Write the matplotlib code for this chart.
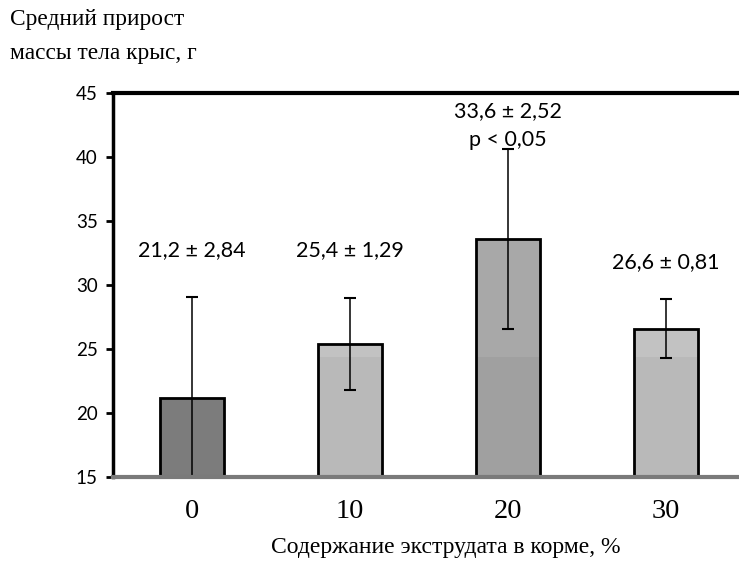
import numpy as np
import matplotlib.pyplot as plt

### DATA ###

# Extrudate content in feed, %
levels = ['0', '10', '20', '30']
# Mean body mass gain, g
gain = [21.2, 25.4, 33.6, 26.6]
# Error bar half-length as drawn
err = [7.9, 3.6, 7.0, 2.3]
# Labels above the bars
labels = ['21,2 ± 2,84', '25,4 ± 1,29', '33,6 ± 2,52\np < 0,05', '26,6 ± 0,81']
label_y = [32.7, 32.7, 42.45, 31.8]

# upper / lower tones of each bar
tone_top = ['#808080', '#c2c2c2', '#a8a8a8', '#c2c2c2']
tone_low = ['#7c7c7c', '#b9b9b9', '#a0a0a0', '#b9b9b9']
shade_level = 24.4

### PLOT ###

fig = plt.figure(figsize=(7.39, 5.63), dpi=100)
ax = fig.add_axes([113 / 739, 1 - 477 / 563, 626 / 739, 384 / 563])

x = np.arange(len(levels))
bottom = 15

ax.bar(x, np.array(gain) - bottom, bottom=bottom, width=0.405,
       color=tone_top, edgecolor='none', zorder=2)
low_h = np.minimum(gain, shade_level) - bottom
ax.bar(x, low_h, bottom=bottom, width=0.405, color=tone_low,
       edgecolor='none', zorder=2)
ax.bar(x, np.array(gain) - bottom, bottom=bottom, width=0.405,
       color='none', edgecolor='black', linewidth=2, zorder=3)

ax.errorbar(x, gain, yerr=err, fmt='none', ecolor='black', elinewidth=1.1,
            capsize=4, capthick=1.5, zorder=4)

for xi, lab, ly in zip(x, labels, label_y):
    ax.text(xi, ly, lab, ha='center', va='center', fontsize=15.5,
            family='Lato', linespacing=1.6, zorder=5)

ax.set_ylim(15, 45)
ax.set_xlim(-0.5, -0.5 + 626 / 158)
ax.set_yticks([15, 20, 25, 30, 35, 40, 45])
ax.set_xticks(x)
ax.set_xticklabels(levels, family='Liberation Serif', fontsize=20.5)
ax.tick_params(axis='x', length=0, pad=16)
ax.tick_params(axis='y', length=5, width=2, pad=6, labelsize=13.5)
for t in ax.get_yticklabels():
    t.set_family('Lato')

ax.spines['right'].set_visible(False)
ax.spines['left'].set_linewidth(2.5)
ax.spines['top'].set_linewidth(3)
ax.spines['bottom'].set_color('#7a7a7a')
ax.spines['bottom'].set_linewidth(3)
ax.spines['bottom'].set_zorder(6)

fig.text(10 / 739, 1 - 20 / 563, 'Средний прирост', family='Liberation Serif',
         fontsize=16.8, ha='left', va='center')
fig.text(10 / 739, 1 - 53 / 563, 'массы тела крыс, г', family='Liberation Serif',
         fontsize=16.8, ha='left', va='center')
fig.text(446 / 739, 1 - 548 / 563, 'Содержание экструдата в корме, %',
         family='Liberation Serif', fontsize=17, ha='center', va='center')

plt.savefig('out.png', dpi=100)
